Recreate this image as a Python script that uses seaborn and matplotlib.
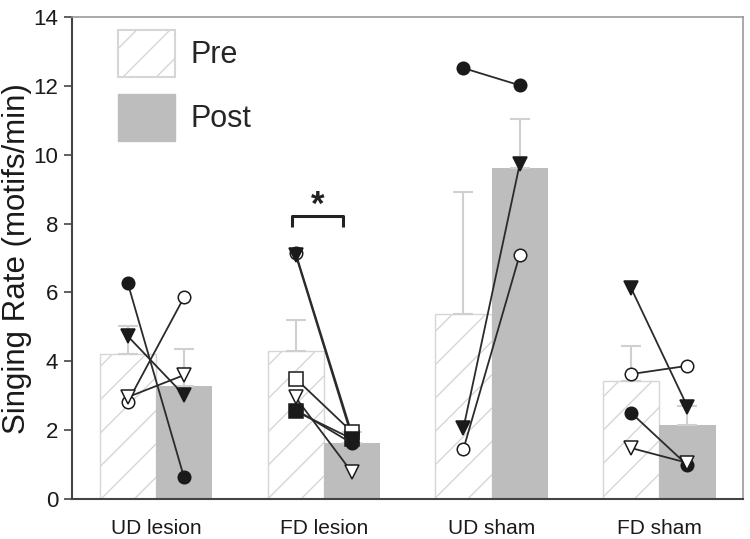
import numpy as np
import pandas as pd
import matplotlib
matplotlib.use("Agg")
import matplotlib.pyplot as plt
import seaborn as sns
from matplotlib.patches import Patch

# ---- data ----
groups = ["UD lesion", "FD lesion", "UD sham", "FD sham"]
phases = ["Pre", "Post"]
pre_mean = [4.21, 4.30, 5.37, 3.43]
post_mean = [3.28, 1.62, 9.62, 2.15]
pre_err_top = [5.02, 5.20, 8.92, 4.44]
post_err_top = [4.36, 1.95, 11.04, 2.70]

# individual birds: (group index, marker, filled, pre, post)
bird_group = [0, 0, 0, 0,
              1, 1, 1, 1, 1, 1,
              2, 2, 2,
              3, 3, 3, 3]
bird_marker = ["o", "o", "v", "v",
               "o", "v", "s", "v", "s", "o",
               "o", "v", "o",
               "v", "o", "o", "v"]
bird_filled = [True, False, True, False,
               False, True, False, False, True, True,
               True, True, False,
               True, False, True, False]
bird_pre = [6.27, 2.82, 4.73, 2.96,
            7.15, 7.10, 3.50, 2.95, 2.55, 2.60,
            12.52, 2.06, 1.45,
            6.12, 3.63, 2.50, 1.48]
bird_post = [0.63, 5.86, 3.02, 3.60,
             1.90, 1.80, 1.95, 0.78, 1.75, 1.62,
             12.02, 9.72, 7.09,
             2.68, 3.87, 0.98, 1.05]

df = pd.DataFrame({
    "group": groups * 2,
    "phase": ["Pre"] * 4 + ["Post"] * 4,
    "rate": pre_mean + post_mean,
})

sns.set_style("white")
plt.rcParams["font.family"] = ["Liberation Sans", "DejaVu Sans"]
plt.rcParams["hatch.color"] = "#d6d6d6"
plt.rcParams["hatch.linewidth"] = 1.0

fig = plt.figure(figsize=(7.5, 5.39), dpi=100)
ax = fig.add_axes([0.096, 0.0742, 0.895, 0.894])

pre_col = "white"
post_col = "#bdbdbd"
sns.barplot(data=df, x="group", y="rate", hue="phase", order=groups,
            hue_order=phases, palette={"Pre": pre_col, "Post": post_col},
            errorbar=None, width=0.67, gap=0, ax=ax, legend=False,
            saturation=1)

# style bars; collect centres
pre_x, post_x = [], []
for i, p in enumerate(ax.patches[:8]):
    cx = p.get_x() + p.get_width() / 2
    if i < 4:
        p.set_hatch("/")
        p.set_edgecolor("#d6d6d6")
        p.set_linewidth(1.0)
        pre_x.append(cx)
    else:
        p.set_edgecolor(post_col)
        p.set_linewidth(0)
        post_x.append(cx)
pre_x = list(np.sort(pre_x))
post_x = list(np.sort(post_x))

err_col = "#d0d0d0"
for xs, means, tops in ((pre_x, pre_mean, pre_err_top), (post_x, post_mean, post_err_top)):
    for x, m, t in zip(xs, means, tops):
        ax.errorbar([x], [m], yerr=[[0], [t - m]], fmt="none", ecolor=err_col,
                    elinewidth=1.5, capsize=7, capthick=1.5, zorder=2)

# individual lines
for g, mk, fill, a, b in zip(bird_group, bird_marker, bird_filled, bird_pre, bird_post):
    ax.plot([pre_x[g], post_x[g]], [a, b], color="#2b2b2b", lw=1.3,
            marker=mk, markersize=9 if mk == "o" else 9.5,
            markerfacecolor="#1a1a1a" if fill else "white",
            markeredgecolor="#1a1a1a", markeredgewidth=1.1, zorder=4)

# significance bracket
x1, x2 = pre_x[1] - 0.02, pre_x[1] + 0.28
ax.plot([x1, x1, x2, x2], [7.9, 8.22, 8.22, 7.9], color="#222222", lw=2.2,
        solid_capstyle="butt", zorder=5)
ax.text((x1 + x2) / 2, 8.05, "*", ha="center", va="bottom", fontsize=25,
        fontweight="bold", color="#222222")

ax.set_xlim(-0.5, 3.5)
ax.set_ylim(0, 14)
ax.set_yticks(np.arange(0, 15, 2))
ax.set_xlabel("")
ax.set_ylabel("Singing Rate (motifs/min)", fontsize=22.5, color="#1a1a1a", labelpad=1)
ax.tick_params(axis="y", which="both", left=True, length=6, width=1.2,
               color="#444444", labelsize=16, labelcolor="#1a1a1a", pad=4)
ax.tick_params(axis="x", bottom=False, labelsize=15, labelcolor="#1a1a1a", pad=11)
for s in ("left", "bottom"):
    ax.spines[s].set_color("#444444")
    ax.spines[s].set_linewidth(1.5)
for s in ("top", "right"):
    ax.spines[s].set_color("#9a9a9a")
    ax.spines[s].set_linewidth(1.2)

handles = [Patch(facecolor="white", edgecolor="#d6d6d6", hatch="/", linewidth=1.5),
           Patch(facecolor=post_col, edgecolor=post_col)]
ax.legend(handles, phases, loc="upper left", bbox_to_anchor=(0.069, 0.973),
          frameon=False, fontsize=22, handlelength=1.86, handleheight=2.0,
          labelspacing=0.55, handletextpad=0.5, borderpad=0, borderaxespad=0)

fig.savefig("out.png", dpi=100)
